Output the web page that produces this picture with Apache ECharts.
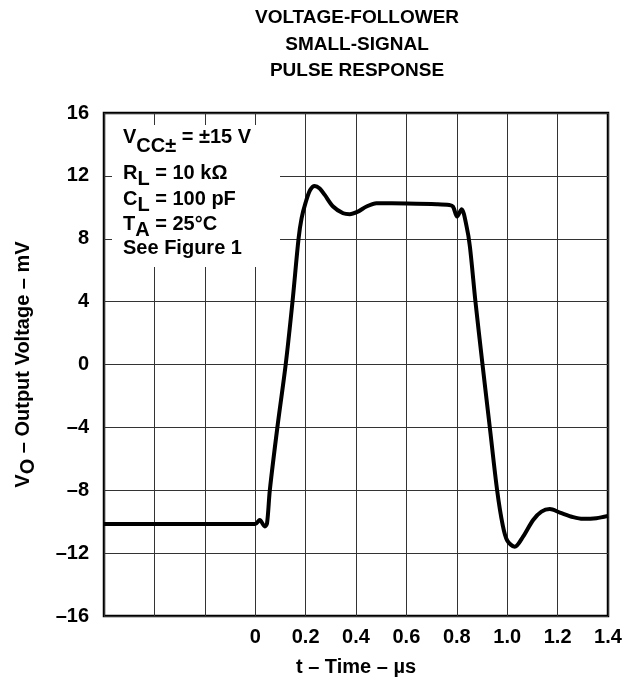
<!DOCTYPE html>
<html>
<head>
<meta charset="utf-8">
<script src="https://cdn.jsdelivr.net/npm/echarts@6/dist/echarts.min.js"></script>
<style>
	html, body { margin: 0; padding: 0; background: #fff; }
	#chart { width: 629px; height: 685px; }
</style>
</head>
<body>
<div id="chart"></div>
<script type="text/javascript">
	// t in µs, VO in mV
	var times = [-0.6, -0.3, 0, 0.018, 0.038, 0.047, 0.058, 0.088, 0.121, 0.148, 0.172, 0.184, 0.2, 0.218, 0.236, 0.256, 0.276, 0.309, 0.349, 0.375, 0.408, 0.442, 0.481, 0.6, 0.72, 0.77, 0.785, 0.801, 0.819, 0.839, 0.852, 0.874, 0.902, 0.931, 0.96, 0.982, 1.0, 1.03, 1.063, 1.103, 1.136, 1.169, 1.209, 1.262, 1.301, 1.354, 1.4];
	var volts = [-10.15, -10.15, -10.15, -9.9, -10.3, -10.1, -8, -4, 0, 4, 8, 9.3, 10.3, 11.1, 11.36, 11.2, 10.79, 10.05, 9.62, 9.56, 9.73, 10.05, 10.26, 10.24, 10.2, 10.15, 10.05, 9.41, 9.88, 8.77, 7.5, 4, 0, -4, -8, -10.2, -11.2, -11.6, -10.95, -9.89, -9.36, -9.2, -9.42, -9.71, -9.82, -9.78, -9.63];
	var xTickLabels = ['0', '0.2', '0.4', '0.6', '0.8', '1.0', '1.2', '1.4'];
	var yTickLabels = ['\u201316', '\u201312', '\u20138', '\u20134', '0', '4', '8', '12', '16'];

	var font = 'Liberation Sans, Arial, Helvetica, sans-serif';
	var pts = [];
	for (var i = 0; i < times.length; i++) {
		pts.push([times[i], volts[i]]);
	}

	var big = { fontFamily: font, fontWeight: 'bold', fontSize: 20, color: '#000' };
	function subStyle(drop) {
		return { fontFamily: font, fontWeight: 'bold', fontSize: 20, padding: [drop * 2, 0, 0, 0], color: '#000' };
	}
	function noteLine(txt, y, drop) {
		return {
			type: 'text', left: 123, top: y, z: 3,
			style: { text: txt, rich: { b: big, s: subStyle(drop) }, font: 'bold 20px ' + font, fill: '#000' }
		};
	}

	var option = {
		animation: false,
		backgroundColor: '#fff',
		title: {
			text: 'VOLTAGE-FOLLOWER\nSMALL-SIGNAL\nPULSE RESPONSE',
			left: 357, top: 5, padding: 0, textAlign: 'center',
			textStyle: { fontFamily: font, fontWeight: 'bold', fontSize: 19, lineHeight: 26.5, color: '#000' }
		},
		grid: {
			left: 104, right: 21, top: 113, bottom: 69,
			show: true, borderColor: '#000', borderWidth: 2.5, backgroundColor: 'transparent'
		},
		xAxis: {
			type: 'value', min: -0.6, max: 1.4, interval: 0.2,
			name: 't \u2013 Time \u2013 \u00b5s', nameLocation: 'middle', nameGap: 41,
			nameTextStyle: { fontFamily: font, fontWeight: 'bold', fontSize: 20, color: '#000' },
			axisLine: { show: false }, axisTick: { show: false },
			axisLabel: {
				margin: 11, fontFamily: font, fontWeight: 'bold', fontSize: 20, color: '#000',
				formatter: function (v) {
					var k = Math.round(v / 0.2);
					return k >= 0 ? xTickLabels[k] : '';
				}
			},
			splitLine: { show: true, lineStyle: { color: '#333', width: 1 } }
		},
		yAxis: {
			type: 'value', min: -16, max: 16, interval: 4,
			name: '{b|V}{s|O}{b| \u2013 Output Voltage \u2013 mV}', nameLocation: 'middle', nameGap: 66, nameRotate: 90,
			nameTextStyle: { rich: { b: big, s: subStyle(5) } },
			axisLine: { show: false }, axisTick: { show: false },
			axisLabel: {
				margin: 15, fontFamily: font, fontWeight: 'bold', fontSize: 20, color: '#000',
				formatter: function (v) { return yTickLabels[Math.round((v + 16) / 4)]; }
			},
			splitLine: { show: true, lineStyle: { color: '#333', width: 1 } }
		},
		graphic: [
			// white box behind the test conditions
			{ type: 'rect', left: 112, top: 125, z: 1, shape: { width: 168, height: 142 }, style: { fill: '#fff' } },
			noteLine('{b|V}{s|CC\u00b1}{b| = \u00b115 V}', 127, 9),
			noteLine('{b|R}{s|L}{b| = 10 k\u03a9}', 163, 6),
			noteLine('{b|C}{s|L}{b| = 100 pF}', 189, 6),
			noteLine('{b|T}{s|A}{b| = 25\u00b0C}', 214, 6),
			{ type: 'text', left: 123, top: 238, z: 3, style: { text: 'See Figure 1', font: 'bold 20px ' + font, fill: '#000' } }
		],
		series: [{
			type: 'line',
			data: pts,
			smooth: 0.3,
			showSymbol: false,
			lineStyle: { color: '#000', width: 4 },
			z: 5
		}]
	};

	var myChart = echarts.init(document.getElementById('chart'));
	myChart.setOption(option);
</script>
</body>
</html>
